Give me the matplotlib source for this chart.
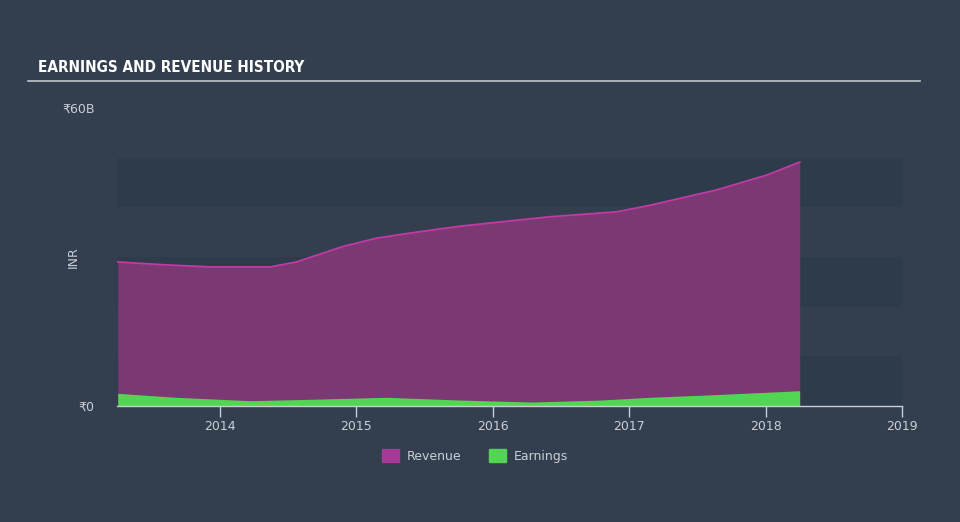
import matplotlib.pyplot as plt
from matplotlib.patches import Patch

plt.rcParams['font.family'] = ['DejaVu Sans', 'Noto Sans']

# values (billions INR)
rev_years = [2013.25, 2013.61, 2013.93, 2014.37, 2014.56, 2014.90, 2015.15, 2015.39,
             2015.76, 2016.42, 2016.91, 2017.15, 2017.64, 2018.01, 2018.25]
revenue = [29.0, 28.4, 28.0, 28.0, 29.0, 32.1, 33.8, 34.8,
           36.2, 38.1, 39.1, 40.4, 43.5, 46.5, 49.1]

earn_years = [2013.25, 2013.68, 2014.0, 2014.22, 2014.66, 2015.22, 2015.76,
              2016.29, 2016.79, 2017.15, 2017.64, 2018.25]
earnings = [2.55, 1.75, 1.35, 1.07, 1.35, 1.75, 1.2,
            0.8, 1.2, 1.75, 2.3, 3.08]

year_ticks = [2014, 2015, 2016, 2017, 2018, 2019]
band_ranges = [(0, 10), (20, 30), (40, 50)]

bg = '#333f4f'
band = '#2e3b4b'
rev_fill = '#7b3873'
rev_line = '#c23ba5'
earn_fill = '#52d553'
text_col = '#c9cfd6'

fig = plt.figure(figsize=(9.6, 5.22), dpi=100, facecolor=bg)
ax = fig.add_axes([117 / 960, 116 / 522, 785 / 960, 298 / 522])
ax.set_facecolor(bg)

x0, x1 = 2013.245, 2019.0
for lo, hi in band_ranges:
    ax.axhspan(lo, hi, color=band, zorder=0, lw=0)

ax.fill_between(rev_years, 0, revenue, color=rev_fill, lw=0, zorder=2)
ax.plot(rev_years, revenue, color=rev_line, lw=1.3, zorder=3)
ax.fill_between(earn_years, 0, earnings, color=earn_fill, lw=0, zorder=4)

ax.set_xlim(x0, x1)
ax.set_ylim(0, 60)

for s in ['top', 'right', 'left']:
    ax.spines[s].set_visible(False)
ax.spines['bottom'].set_color('#c8ced6')
ax.spines['bottom'].set_linewidth(1)
ax.spines['bottom'].set_zorder(5)

ax.set_xticks(year_ticks)
ax.set_xticklabels([str(y) for y in year_ticks])
ax.tick_params(axis='x', colors='#c8ced6', labelcolor=text_col, length=8, width=1,
               labelsize=9, pad=2)
ax.set_yticks([0, 60])
ax.set_yticklabels(['₹0', '₹60B'])
ax.tick_params(axis='y', length=0, labelcolor=text_col, labelsize=9, pad=16)
ax.set_ylabel('INR', color=text_col, fontsize=9, labelpad=14)
ax.yaxis.set_label_coords(-0.047, 0.5)

fig.text(38 / 960, 1 - 68 / 522, 'EARNINGS AND REVENUE HISTORY', color='white',
         fontsize=11, fontweight='bold', fontstretch='condensed',
         family=['Liberation Sans Narrow', 'DejaVu Sans'],
         va='center', ha='left')
fig.add_artist(plt.Line2D([28 / 960, 920 / 960], [1 - 81 / 522, 1 - 81 / 522],
                          color='#c0c6cc', lw=1.2))

handles = [Patch(color='#a83a97', label='Revenue'), Patch(color=earn_fill, label='Earnings')]
fig.legend(handles=handles, loc='center', bbox_to_anchor=(475 / 960, 1 - 456 / 522),
           ncol=2, frameon=False, fontsize=9, labelcolor=text_col, handlelength=1.4,
           handleheight=1.2, columnspacing=2.2, handletextpad=0.6)

fig.savefig('out.png', dpi=100, facecolor=bg)
